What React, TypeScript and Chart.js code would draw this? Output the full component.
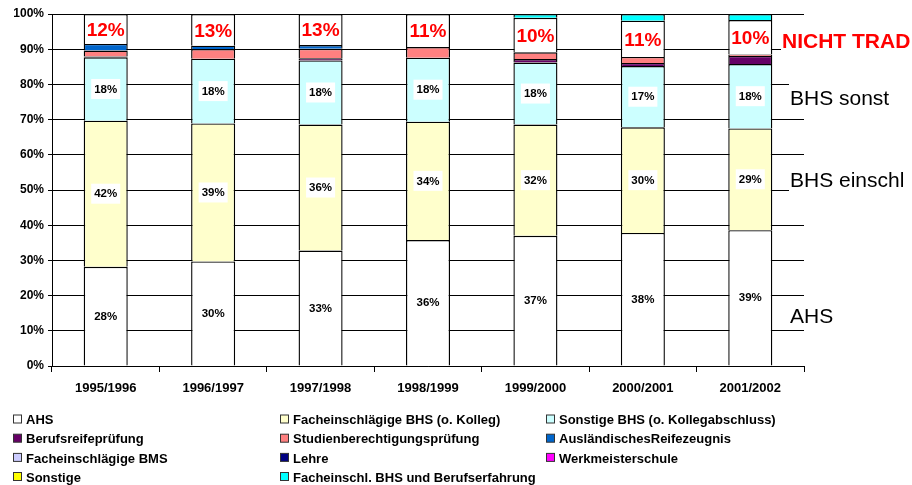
import React, { useEffect, useRef } from 'react';
import { Chart, registerables } from 'chart.js';

Chart.register(...registerables);

const FONT = 'Arial, "Liberation Sans", sans-serif';

const years = ['1995/1996', '1996/1997', '1997/1998', '1998/1999', '1999/2000', '2000/2001', '2001/2002'];
const yTicks = [0, 10, 20, 30, 40, 50, 60, 70, 80, 90, 100];

const ahs = [28.2, 29.7, 32.8, 35.8, 37.0, 37.8, 38.6];
const bhsEinschl = [41.5, 39.2, 35.8, 33.6, 31.6, 30.0, 28.9];
const bhsSonst = [18.0, 18.4, 18.2, 18.2, 17.6, 17.4, 18.3];
const berufsreife = [0.2, 0, 0.6, 0, 1.0, 0.9, 2.3];
const studienber = [1.7, 2.7, 2.7, 3.0, 1.9, 1.7, 0.4];
const auslaend = [1.9, 1.0, 1.1, 0, 0, 0, 0];
const fachBms = [0, 0, 0, 0, 0, 0, 0];
const lehre = [0, 0, 0, 0, 0, 0, 0];
const werkmeister = [0, 0, 0, 0, 0, 0, 0];
const sonstige = [0, 0, 0, 0, 0, 0, 0];
const nichtTradRest = [8.5, 9.0, 8.8, 9.4, 9.8, 10.3, 9.8];
const bhsBerufserf = [0, 0, 0, 0, 1.1, 1.9, 1.7];
const nichtTradPct = [12, 13, 13, 11, 10, 11, 10];

const sideLabels = [
  { text: 'NICHT TRAD', x: 782, base: 48, bold: true, color: '#FF0000' },
  { text: 'BHS sonst', x: 790, base: 105, bold: false, color: '#000000' },
  { text: 'BHS einschl', x: 790, base: 187, bold: false, color: '#000000' },
  { text: 'AHS', x: 790, base: 323, bold: false, color: '#000000' },
];

type S = { label: string; data: number[]; color: string; legend: boolean; kind?: string };

const series: S[] = [
  { label: 'AHS', data: ahs, color: '#FFFFFF', legend: true, kind: 'value' },
  { label: 'Facheinschlägige BHS (o. Kolleg)', data: bhsEinschl, color: '#FFFFCC', legend: true, kind: 'value' },
  { label: 'Sonstige BHS (o. Kollegabschluss)', data: bhsSonst, color: '#CCFFFF', legend: true, kind: 'value' },
  { label: 'Berufsreifeprüfung', data: berufsreife, color: '#660066', legend: true },
  { label: 'Studienberechtigungsprüfung', data: studienber, color: '#FF8080', legend: true },
  { label: 'AusländischesReifezeugnis', data: auslaend, color: '#0066CC', legend: true },
  { label: 'Facheinschlägige BMS', data: fachBms, color: '#CCCCFF', legend: true },
  { label: 'Lehre', data: lehre, color: '#000080', legend: true },
  { label: 'Werkmeisterschule', data: werkmeister, color: '#FF00FF', legend: true },
  { label: 'Sonstige', data: sonstige, color: '#FFFF00', legend: true },
  { label: '', data: nichtTradRest, color: '#FFFFFF', legend: false, kind: 'nicht' },
  { label: 'Facheinschl. BHS und Berufserfahrung', data: bhsBerufserf, color: '#00FFFF', legend: true },
];

const labelPlugin = {
  id: 'segLabels',
  afterDatasetsDraw(chart: any) {
    const ctx = chart.ctx;
    ctx.save();
    series.forEach((s, di) => {
      if (!s.kind) return;
      const meta = chart.getDatasetMeta(di);
      meta.data.forEach((el: any, i: number) => {
        const p = el.getProps(['x', 'y', 'base'], true);
        const cy = (p.y + p.base) / 2;
        if (s.kind === 'value') {
          const t = Math.round(s.data[i]) + '%';
          ctx.font = `bold 11.5px ${FONT}`;
          const w = ctx.measureText(t).width;
          ctx.fillStyle = '#FFFFFF';
          ctx.fillRect(p.x - w / 2 - 3, cy - 10, w + 6, 20);
          ctx.fillStyle = '#000000';
          ctx.textAlign = 'center';
          ctx.textBaseline = 'middle';
          ctx.fillText(t, p.x, cy + 0.5);
        } else {
          const t = nichtTradPct[i] + '%';
          ctx.font = `bold 19px ${FONT}`;
          ctx.fillStyle = '#FF0000';
          ctx.textAlign = 'center';
          ctx.textBaseline = 'middle';
          ctx.fillText(t, p.x, cy + 1.5);
        }
      });
    });
    ctx.restore();
  },
};

const sidePlugin = {
  id: 'sideLabels',
  afterDraw(chart: any) {
    const ctx = chart.ctx;
    ctx.save();
    sideLabels.forEach((l) => {
      ctx.font = `${l.bold ? 'bold ' : ''}21px ${FONT}`;
      const w = ctx.measureText(l.text).width;
      ctx.fillStyle = '#FFFFFF';
      ctx.fillRect(l.x - 1, l.base - 22, w + 4, 28);
      ctx.fillStyle = l.color;
      ctx.textAlign = 'left';
      ctx.textBaseline = 'alphabetic';
      ctx.fillText(l.text, l.x, l.base);
    });
    ctx.restore();
  },
};

const legendPlugin = {
  id: 'gridLegend',
  afterDraw(chart: any) {
    const ctx = chart.ctx;
    const cols = [13, 280, 546];
    const rows = [419.5, 438.7, 457.9, 477];
    ctx.save();
    ctx.font = `bold 13px ${FONT}`;
    ctx.textAlign = 'left';
    ctx.textBaseline = 'alphabetic';
    const items = series.filter((s) => s.legend);
    items.forEach((s, k) => {
      const c = k % 3;
      const r = Math.floor(k / 3);
      const bx = cols[c];
      const cy = rows[r];
      ctx.fillStyle = s.color;
      ctx.fillRect(bx + 0.5, cy - 4.5, 8, 8);
      ctx.strokeStyle = '#333333';
      ctx.lineWidth = 1;
      ctx.strokeRect(bx + 0.5, cy - 4.5, 8, 8);
      ctx.fillStyle = '#000000';
      ctx.fillText(s.label, bx + 13, cy + 4.7);
    });
    ctx.restore();
  },
};

export default function App() {
  const ref = useRef<HTMLCanvasElement>(null);
  useEffect(() => {
    const chart = new Chart(ref.current as HTMLCanvasElement, {
      type: 'bar',
      data: {
        labels: years,
        datasets: series.map((s) => ({
          label: s.label,
          data: s.data.map((v) => (v === 0 ? null : v)),
          backgroundColor: s.color,
          borderColor: '#000000',
          borderWidth: 1.4,
          barPercentage: 1,
          categoryPercentage: 0.41,
        })),
      },
      options: {
        responsive: false,
        animation: false,
        layout: { padding: { left: 0, top: 14, right: 108, bottom: 89 } },
        plugins: {
          legend: { display: false },
          tooltip: { enabled: false },
        },
        scales: {
          x: {
            stacked: true,
            afterFit: (scale: any) => {
              scale.height = 30;
            },
            grid: {
              display: true,
              drawOnChartArea: false,
              drawTicks: true,
              tickLength: 6,
              color: '#000000',
              offset: true,
            },
            border: { color: '#000000', width: 1 },
            ticks: {
              color: '#000000',
              font: { family: FONT, size: 13, weight: 'bold' },
              padding: 9,
            },
          },
          y: {
            stacked: true,
            min: 0,
            max: 100,
            afterFit: (scale: any) => {
              scale.width = 52;
            },
            afterBuildTicks: (scale: any) => {
              scale.ticks = yTicks.map((v) => ({ value: v }));
            },
            grid: {
              color: '#000000',
              lineWidth: 1,
              tickLength: 4,
              drawTicks: true,
            },
            border: { color: '#000000', width: 1 },
            ticks: {
              color: '#000000',
              font: { family: FONT, size: 12, weight: 'bold' },
              padding: 4,
              callback: (v: any) => v + '%',
            },
          },
        },
      },
      plugins: [labelPlugin, sidePlugin, legendPlugin],
    } as any);
    return () => chart.destroy();
  }, []);
  return (
    <div style={{ position: 'absolute', left: 0, top: 0, width: 912, height: 485, background: '#FFFFFF' }}>
      <canvas ref={ref} width={912} height={485} style={{ display: 'block' }} />
    </div>
  );
}
